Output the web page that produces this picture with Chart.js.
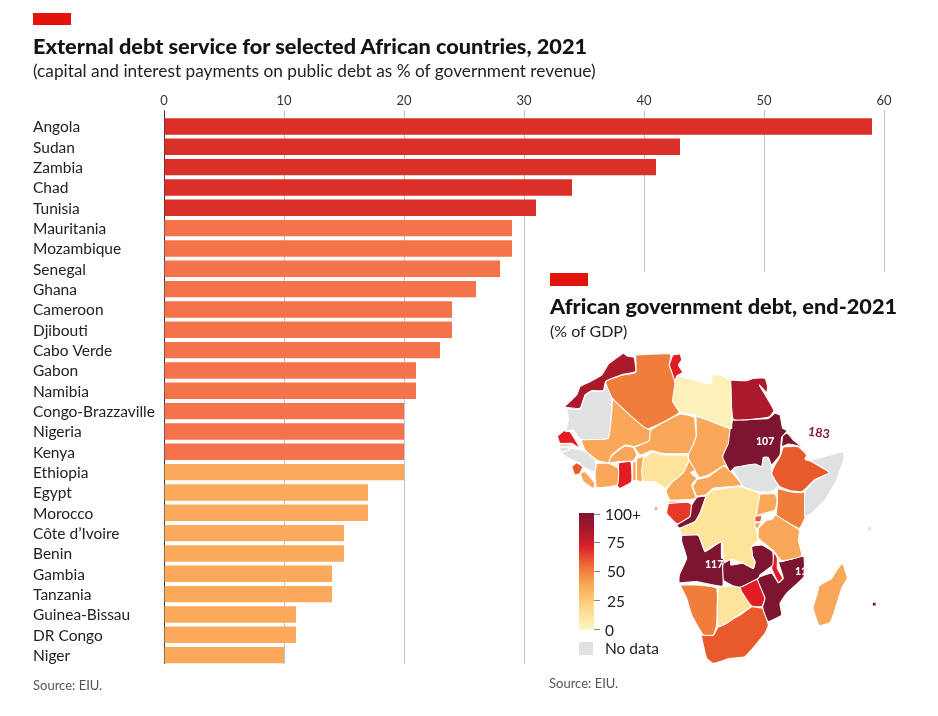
<!DOCTYPE html>
<html lang="en">
<head>
<meta charset="UTF-8">
<title>African debt</title>
<script src="https://cdnjs.cloudflare.com/ajax/libs/Chart.js/4.4.1/chart.umd.min.js"></script>
<style>
  html, body { margin: 0; padding: 0; background: #fff; }
  body { width: 938px; height: 716px; position: relative; overflow: hidden; font-family: Lato, sans-serif; color: #1f1f1f; }
  #page > * { position: absolute; white-space: nowrap; }
  canvas { display: block; }
  .tab { background: #e3120b; width: 38px; height: 12px; }
  .title { font-weight: 900; font-size: 21.7px; line-height: 24px; color: #141414; }
  .sub { font-size: 17.3px; line-height: 20px; color: #222; }
  .src { font-size: 13px; line-height: 16px; color: #555; }
  .lab { font-size: 15.5px; line-height: 18px; color: #222; }
  .val { font-size: 10.5px; line-height: 12px; font-weight: 900; color: #fff; }
</style>
</head>
<body>
<div id="page">
  <div style="left:0;top:0;width:938px;height:716px"><canvas id="barChart"></canvas></div>
  <div style="left:160px;top:663.5px;width:370px;height:4px;background:#fff"></div>
  <div style="left:535px;top:272px;width:403px;height:444px;background:#fff"></div>
  <div style="left:540px;top:340px;width:400px;height:360px"><canvas id="mapChart"></canvas></div>

  <div class="tab" style="left:33px;top:13px"></div>
  <div class="title" style="left:33px;top:34px">External debt service for selected African countries, 2021</div>
  <div class="sub" style="left:33px;top:61px">(capital and interest payments on public debt as % of government revenue)</div>
  <div class="src" style="left:33px;top:677px">Source: EIU.</div>

  <div class="tab" style="left:550px;top:273px;height:13px"></div>
  <div class="title" style="left:550px;top:294px">African government debt, end-2021</div>
  <div class="sub" style="left:550px;top:321px;font-size:16px">(% of GDP)</div>
  <div class="src" style="left:549px;top:675px">Source: EIU.</div>

  <div style="left:579px;top:513px;width:15px;height:117px;background:linear-gradient(#7d1530 0%,#a5182c 14%,#d9202a 28%,#ef6a35 45%,#f9a552 60%,#fdd686 80%,#fff6c8 100%)"></div>
  <div style="left:594px;top:514px;width:6px;height:1px;background:#888"></div>
  <div style="left:594px;top:542px;width:6px;height:1px;background:#888"></div>
  <div style="left:594px;top:571px;width:6px;height:1px;background:#888"></div>
  <div style="left:594px;top:600px;width:6px;height:1px;background:#888"></div>
  <div style="left:594px;top:629px;width:6px;height:1px;background:#888"></div>
  <div class="lab" style="left:605px;top:505px">100+</div>
  <div class="lab" style="left:607px;top:533px">75</div>
  <div class="lab" style="left:607px;top:562px">50</div>
  <div class="lab" style="left:607px;top:592px">25</div>
  <div class="lab" style="left:605px;top:621px">0</div>
  <div style="left:579px;top:642px;width:14px;height:13px;background:#dfe1e3"></div>
  <div class="lab" style="left:605px;top:639px">No data</div>

  <div class="val" style="left:756px;top:435px">107</div>
  <div class="val" style="left:705px;top:558px">117</div>
  <div class="val" style="left:795px;top:565px">117</div>
  <div style="left:808px;top:425px;font-size:12.5px;line-height:16px;font-weight:700;color:#8a1c3c;transform:rotate(8deg)">183</div>
</div>

<script>
  // bars: % of government revenue
  var countries = ["Angola", "Sudan", "Zambia", "Chad", "Tunisia", "Mauritania", "Mozambique", "Senegal", "Ghana",
    "Cameroon", "Djibouti", "Cabo Verde", "Gabon", "Namibia", "Congo-Brazzaville", "Nigeria", "Kenya", "Ethiopia",
    "Egypt", "Morocco", "Côte d’Ivoire", "Benin", "Gambia", "Tanzania", "Guinea-Bissau", "DR Congo", "Niger"];
  var debtService = [59, 43, 41, 34, 31, 29, 29, 28, 26, 24, 24, 23, 21, 21, 20, 20, 20, 20, 17, 17, 15, 15, 14, 14, 11, 11, 10];
  var axisTicks = [0, 10, 20, 30, 40, 50, 60];

  // map outlines, in map units (y down)
  var tunisia = [[398,45],[420,42],[425,60],[415,75],[428,97],[410,108],[405,125],[395,95],[388,75]];
  var morocco = [[205,72],[250,40],[262,48],[282,52],[287,95],[245,104],[197,124],[190,152],[155,152],[135,165],[120,205],[75,200],[110,165],[120,140],[150,125],[185,105]];
  var algeria = [[287,45],[392,42],[388,75],[398,100],[405,130],[398,185],[418,218],[322,266],[218,176],[197,125],[245,106],[287,97]];
  var libya = [[405,130],[412,108],[490,128],[515,130],[515,105],[540,105],[570,120],[575,265],[560,262],[465,225],[420,215],[398,183]];
  var egypt = [[572,120],[620,122],[640,115],[675,115],[683,140],[680,158],[658,135],[702,212],[685,232],[580,238]];
  var sudan = [[578,240],[685,235],[705,220],[720,225],[728,265],[742,272],[725,292],[720,345],[695,375],[685,352],[670,352],[665,380],[645,372],[585,382],[570,395],[548,350],[565,310],[570,268]];
  var eritrea = [[728,285],[742,280],[760,300],[805,335],[775,318],[745,312],[725,320]];
  var ethiopia = [[730,320],[775,320],[800,345],[795,358],[815,365],[868,398],[825,418],[798,445],[785,455],[750,452],[720,440],[705,420],[695,400],[705,375],[720,350]];
  var somalia = [[798,355],[815,360],[910,335],[912,355],[890,420],[855,480],[815,520],[795,530],[795,455],[825,420],[868,398],[815,365]];
  var southSudan = [[575,385],[585,382],[645,372],[665,380],[670,352],[685,352],[695,378],[695,402],[715,438],[695,455],[655,455],[610,440]];
  var kenya = [[712,445],[750,455],[785,458],[795,455],[795,510],[800,520],[778,565],[710,525],[712,490]];
  var uganda = [[660,462],[705,462],[712,480],[705,510],[680,518],[650,525]];
  var rwanda = [[645,528],[665,528],[662,545],[645,545]];
  var burundi = [[645,548],[660,548],[655,565],[645,562]];
  var lakeVictoria = [[677,525],[690,510],[702,520],[700,535],[685,540]];
  var tanzania = [[655,565],[675,545],[710,525],[778,570],[775,600],[785,648],[725,662],[698,630],[655,595]];
  var drCongo = [[498,468],[520,450],[600,440],[660,462],[650,525],[645,550],[655,600],[635,620],[638,650],[645,665],[640,685],[610,670],[572,658],[552,665],[545,605],[495,630],[475,585],[425,585],[420,565],[465,545],[480,520]];
  var congo = [[470,472],[497,468],[495,480],[480,520],[465,545],[420,565],[410,555],[450,530],[455,495]];
  var gabon = [[385,490],[445,487],[455,495],[450,530],[412,552],[380,520]];
  var eqGuinea = [[385,483],[410,483],[410,490],[385,490]];
  var cameroon = [[447,362],[465,390],[452,398],[470,415],[455,435],[468,475],[390,480],[378,452],[395,428],[430,398]];
  var car = [[458,440],[472,418],[505,410],[550,378],[570,390],[605,435],[520,445],[497,465],[470,468]];
  var nigeria = [[310,355],[340,335],[365,345],[440,345],[447,362],[430,398],[395,428],[375,445],[345,425],[310,425],[305,395]];
  var niger = [[282,322],[328,302],[332,270],[420,222],[462,232],[468,290],[445,340],[365,340],[335,332],[300,345]];
  var chad = [[468,228],[575,268],[565,320],[548,350],[568,375],[550,378],[505,405],[478,412],[447,360],[445,340],[468,290]];
  var mali = [[218,176],[322,266],[332,270],[328,302],[282,320],[255,315],[215,345],[205,368],[170,360],[135,330],[125,300],[205,295]];
  var mauritania = [[80,205],[120,208],[135,167],[155,154],[190,154],[198,130],[216,176],[205,295],[120,298],[100,270],[78,275],[85,240]];
  var senegal = [[52,288],[72,272],[90,275],[120,325],[95,310],[60,310]];
  var gambia = [[60,312],[92,313],[92,318],[60,318]];
  var guineaBissau = [[58,322],[85,322],[85,332],[65,335]];
  var guinea = [[60,335],[90,325],[130,332],[165,352],[165,395],[135,385],[120,370],[85,355]];
  var sierraLeone = [[95,380],[110,368],[128,380],[120,400],[105,405]];
  var liberia = [[120,400],[135,395],[145,405],[165,430],[160,445],[130,425]];
  var ivoryCoast = [[170,370],[205,370],[235,385],[232,435],[170,442],[165,400]];
  var burkina = [[205,370],[215,347],[255,318],[280,322],[290,345],[280,362],[235,365]];
  var ghana = [[236,368],[272,365],[275,425],[240,445],[232,438]];
  var togo = [[278,365],[288,365],[288,420],[278,422]];
  var benin = [[290,355],[310,350],[310,395],[305,425],[290,420]];
  var angola = [[425,585],[475,585],[495,635],[543,605],[545,655],[572,657],[548,672],[548,738],[470,725],[418,728],[418,705],[440,655],[425,605]];
  var zambia = [[552,665],[572,658],[572,675],[610,670],[640,685],[645,665],[638,650],[635,620],[665,615],[698,635],[698,675],[660,705],[655,715],[600,742],[580,738],[550,720],[548,675]];
  var malawi = [[702,635],[712,655],[712,685],[728,715],[715,728],[695,685]];
  var mozambique = [[785,648],[792,650],[792,710],[740,760],[720,790],[725,825],[685,845],[675,825],[668,800],[675,775],[652,715],[695,700],[715,728],[730,715],[715,665],[725,665]];
  var zimbabwe = [[600,742],[652,718],[675,775],[665,800],[635,798],[605,755]];
  var botswana = [[535,742],[580,738],[600,745],[635,798],[595,825],[560,850],[535,860],[532,800]];
  var namibia = [[420,735],[470,735],[530,745],[530,855],[520,885],[490,885],[455,825],[440,775]];
  var southAfrica = [[670,805],[685,855],[675,880],[615,950],[570,955],[520,970],[500,955],[485,885],[520,885],[535,860],[600,825],[635,800]];
  var lesotho = [[610,900],[625,885],[640,895],[630,915],[615,915]];
  var eswatini = [[658,855],[670,845],[680,860],[670,872]];
  var madagascar = [[908,668],[915,690],[922,715],[905,745],[885,810],[870,848],[838,857],[825,825],[820,800],[832,760],[837,738],[875,715],[890,690]];
  var mauritius = [[997,787],[1008,787],[1008,798],[997,798]];
  var seychelles = [[983,560],[994,560],[994,571],[983,571]];
  var saoTome = [[343,500],[353,500],[353,511],[343,511]];

  var DARK = "#7d1530", CRIMSON = "#ab1a2a", RED = "#e31b23", TOMATO = "#e85a2c", ORANGE = "#ef7d3b",
      AMBER = "#f9a85a", SAND = "#fee39b", PALE = "#fdf0b8", GREY = "#dfe1e3";

  var mapShapes = [
    [tunisia, RED], [morocco, CRIMSON], [algeria, ORANGE], [libya, PALE], [egypt, CRIMSON], [sudan, DARK],
    [eritrea, DARK], [ethiopia, TOMATO], [somalia, GREY], [southSudan, GREY], [kenya, ORANGE], [uganda, AMBER],
    [rwanda, TOMATO], [burundi, AMBER], [lakeVictoria, "#ffffff"], [tanzania, AMBER], [drCongo, SAND], [congo, DARK],
    [gabon, "#e8382a"], [eqGuinea, AMBER], [cameroon, AMBER], [car, AMBER], [nigeria, SAND], [niger, AMBER], [chad, AMBER],
    [mali, AMBER], [mauritania, GREY], [senegal, RED], [gambia, AMBER], [guineaBissau, GREY], [guinea, GREY],
    [sierraLeone, TOMATO], [liberia, AMBER], [ivoryCoast, AMBER], [burkina, AMBER], [ghana, RED], [togo, AMBER], [benin, AMBER],
    [angola, DARK], [zambia, DARK], [malawi, RED], [mozambique, DARK], [zimbabwe, RED], [botswana, SAND], [namibia, ORANGE],
    [southAfrica, TOMATO], [lesotho, GREY], [eswatini, GREY], [madagascar, AMBER],
    [mauritius, DARK], [seychelles, GREY], [saoTome, AMBER]
  ];

  Chart.defaults.font.family = "Lato, sans-serif";
  Chart.defaults.animation = false;
  Chart.defaults.responsive = true;
  Chart.defaults.maintainAspectRatio = false;

  function barColour(ctx) {
    if (ctx.dataIndex < 5) return "#da3027";
    if (ctx.dataIndex < 17) return "#f4734a";
    return "#fba95b";
  }

  new Chart(document.getElementById("barChart"), {
    type: "bar",
    data: {
      labels: countries,
      datasets: [{ data: debtService, backgroundColor: barColour, barPercentage: 0.81, categoryPercentage: 1 }]
    },
    options: {
      indexAxis: "y",
      layout: { padding: { left: 33, top: 0, right: 54, bottom: 50.7 } },
      plugins: { legend: { display: false }, tooltip: { enabled: false } },
      scales: {
        x: {
          position: "top",
          min: 0,
          max: 60,
          afterBuildTicks: function (s) { s.ticks = axisTicks.map(function (v) { return { value: v }; }); },
          afterFit: function (s) { s.height = 116.3; },
          border: { display: false },
          grid: {
            tickLength: 6,
            lineWidth: 1,
            color: function (c) { return c.tick && c.tick.value === 0 ? "#333333" : "#b9c8cd"; }
          },
          ticks: { padding: 2, color: "#333", font: { size: 13 }, maxRotation: 0 }
        },
        y: {
          afterFit: function (s) { s.width = 131; },
          border: { display: false },
          grid: { display: false },
          ticks: { crossAlign: "far", padding: 0, labelOffset: 1, color: "#222", font: { size: 15.5 }, autoSkip: false }
        }
      }
    }
  });

  new Chart(document.getElementById("mapChart"), {
    type: "scatter",
    data: {
      datasets: mapShapes.map(function (s) {
        return {
          data: s[0].concat([s[0][0]]).map(function (p) { return { x: p[0], y: p[1] }; }),
          showLine: true,
          fill: "shape",
          tension: 0.12,
          backgroundColor: s[1],
          borderColor: "#ffffff",
          borderWidth: 1.1,
          pointRadius: 0
        };
      })
    },
    options: {
      layout: { padding: 0 },
      plugins: { legend: { display: false }, tooltip: { enabled: false } },
      scales: {
        x: { type: "linear", display: false, min: 0, max: 1200 },
        y: { type: "linear", display: false, min: 0, max: 1080, reverse: true }
      }
    }
  });
</script>
</body>
</html>
